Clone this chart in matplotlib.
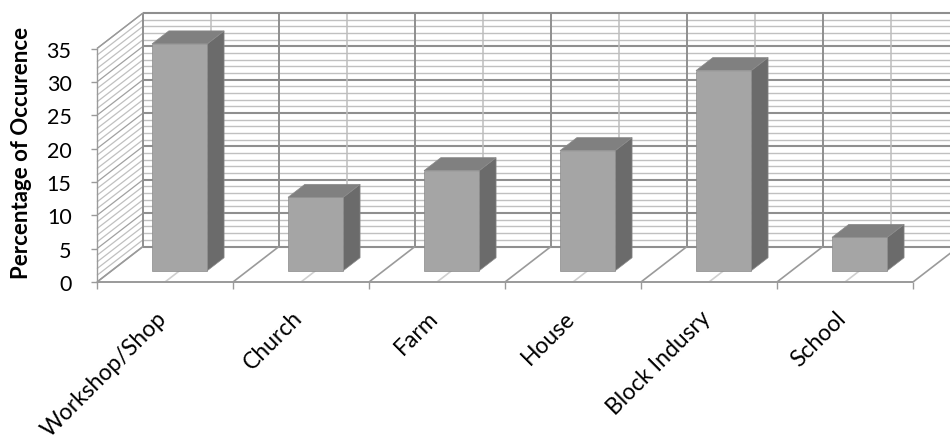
import numpy as np
import matplotlib.pyplot as plt
from matplotlib.patches import Polygon

# datos del grafico
categorias = ['Workshop/Shop', 'Church', 'Farm', 'House', 'Block Indusry', 'School']
valores = [34, 11, 15, 18, 30, 5]
y_ticks = [0, 5, 10, 15, 20, 25, 30, 35]

plt.rcParams['font.family'] = ['Lato', 'DejaVu Sans']

fig = plt.figure(figsize=(9.5, 4.39), dpi=100)
# el eje delantero ocupa el plano frontal (0..6 categorias, 0..35 %)
ax = fig.add_axes([97 / 950, (439 - 283) / 439, 816 / 950, 233.5 / 439])
ax.set_xlim(0, 6)
ax.set_ylim(0, 35)

# profundidad oblicua en unidades de datos
DX = 46 / 136
DY = 35.5 / (233.5 / 35)
n = len(categorias)
ymax = y_ticks[-1]

def linea(p, q, color, lw, z=1):
    ax.plot([p[0], q[0]], [p[1], q[1]], color=color, lw=lw, zorder=z,
            clip_on=False, solid_capstyle='butt')

# pared de fondo: lineas menores y mayores
for v in range(0, ymax + 1):
    mayor = v % 5 == 0
    c = '#8f8f8f' if mayor else '#c0c0c0'
    w = 1.5 if mayor else 1.0
    linea((DX, v + DY), (n + DX, v + DY), c, w, 1)
    # pared lateral
    linea((0, v), (DX, v + DY), '#a0a0a0' if mayor else '#c0c0c0', 0.9, 1)

for k in range(0, 2 * n + 1):
    frontera = k % 2 == 0
    x = k / 2
    c = '#8f8f8f' if frontera else '#bdbdbd'
    linea((x + DX, DY), (x + DX, ymax + DY), c, 1.4 if frontera else 1.1, 1.2)
    # suelo
    linea((x, 0), (x + DX, DY), '#9a9a9a' if frontera else '#cfcfcf', 1.2, 1.3)

# bordes de las paredes
linea((DX, ymax + DY), (n + DX, ymax + DY), '#8f8f8f', 1.4, 1.5)
linea((0, ymax), (DX, ymax + DY), '#9a9a9a', 1.0, 1.5)
linea((0, 0), (n, 0), '#9a9a9a', 1.4, 1.5)

# barras 3D
BW = 0.406
f0, f1 = 0.318, 0.684
ddx, ddy = (f1 - f0) * DX, (f1 - f0) * DY
for i, v in enumerate(valores):
    x0 = i + 0.5 - BW / 2 + f0 * DX
    y0 = f0 * DY
    frente = [(x0, y0), (x0 + BW, y0), (x0 + BW, y0 + v), (x0, y0 + v)]
    arriba = [(x0, y0 + v), (x0 + BW, y0 + v),
              (x0 + BW + ddx, y0 + v + ddy), (x0 + ddx, y0 + v + ddy)]
    lado = [(x0 + BW, y0), (x0 + BW + ddx, y0 + ddy),
            (x0 + BW + ddx, y0 + v + ddy), (x0 + BW, y0 + v)]
    for pts, col in [(lado, '#6b6b6b'), (arriba, '#808080'), (frente, '#a5a5a5')]:
        ax.add_patch(Polygon(pts, closed=True, facecolor=col, edgecolor='#8a8a8a',
                             lw=0.5, zorder=3, clip_on=False))

# ejes
for s in ['top', 'right', 'bottom']:
    ax.spines[s].set_visible(False)
ax.spines['left'].set_color('#9a9a9a')
ax.spines['left'].set_linewidth(1.0)
ax.patch.set_visible(False)
ax.set_yticks(y_ticks)
ax.tick_params(axis='y', length=4.3, width=1.0, color='#9a9a9a', pad=14,
               labelsize=15.5)
ax.set_xticks(np.arange(0, n + 1))
ax.set_xticklabels([])
ax.tick_params(axis='x', length=5, width=1.0, color='#9a9a9a')

for i, nombre in enumerate(categorias):
    ax.annotate(nombre, xy=(i + 0.5, 0), xytext=(-2, -32), textcoords='offset pixels',
                rotation=45, rotation_mode='anchor', ha='right', va='center',
                fontsize=16.5)

fig.text(22 / 950, 1 - 153 / 439, 'Percentage of Occurence', rotation=90,
         ha='center', va='center', fontsize=16, fontweight='bold')

fig.savefig('out.png', dpi=100)
